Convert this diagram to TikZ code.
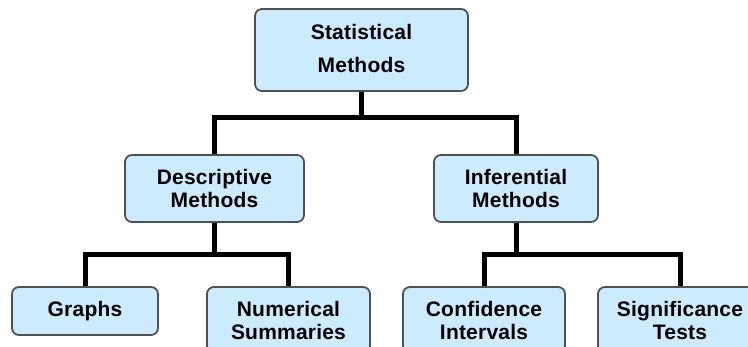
\documentclass[tikz,border=0pt]{standalone}
\usepackage{fontspec}
\setmainfont{Liberation Sans}[LetterSpace=1]
\usetikzlibrary{backgrounds}
\definecolor{boxfill}{HTML}{CCEBFF}
\definecolor{boxline}{HTML}{505050}
\tikzset{
  x=1pt, y=-1pt,
  box/.style={draw=boxline, line width=1.8pt, fill=boxfill, rounded corners=7pt,
    align=center, inner sep=0pt, font=\bfseries\fontsize{21}{23}\selectfont},
  wire/.style={line width=5pt, black, line join=miter}
}
\begin{document}
\begin{tikzpicture}
\useasboundingbox (0,0) rectangle (748,346);
\clip (0,0) rectangle (748,346);

% top level
\node[box, minimum width=213pt, minimum height=82pt] (stat) at (361.5,50)
  {\raisebox{3pt}{\shortstack[c]{Statistical\\[14pt]Methods}}};

% second level
\node[box, minimum width=179pt, minimum height=67pt] (desc) at (214.5,188.5) {Descriptive\\Methods};
\node[box, minimum width=164pt, minimum height=67pt] (infer) at (516,188.5) {Inferential\\Methods};

% third level (lower boxes run past the bottom edge)
\node[box, minimum width=146pt, minimum height=48pt] (graphs) at (85,311) {\raisebox{3pt}{Graphs}};
\node[box, minimum width=163pt, minimum height=66pt] (numer) at (288.5,320) {Numerical\\Summaries};
\node[box, minimum width=162pt, minimum height=66pt] (conf) at (484,320) {Confidence\\Intervals};
\node[box, minimum width=164pt, minimum height=66pt] (sig) at (680,320) {Significance\\Tests};

% junction points of the tree
\coordinate (j1) at (361.5,117);
\coordinate (j2) at (214.5,254);
\coordinate (j3) at (516,254);

\begin{pgfonlayer}{background}
  \draw[wire] (stat.south) -- (j1);
  \draw[wire] (desc.north) |- (j1) -| (infer.north);
  \draw[wire] (desc.south) -- (j2);
  \draw[wire] (graphs.north) |- (j2) -| (numer.north);
  \draw[wire] (infer.south) -- (j3);
  \draw[wire] (conf.north) |- (j3) -| (sig.north);
\end{pgfonlayer}
\end{tikzpicture}
\end{document}
